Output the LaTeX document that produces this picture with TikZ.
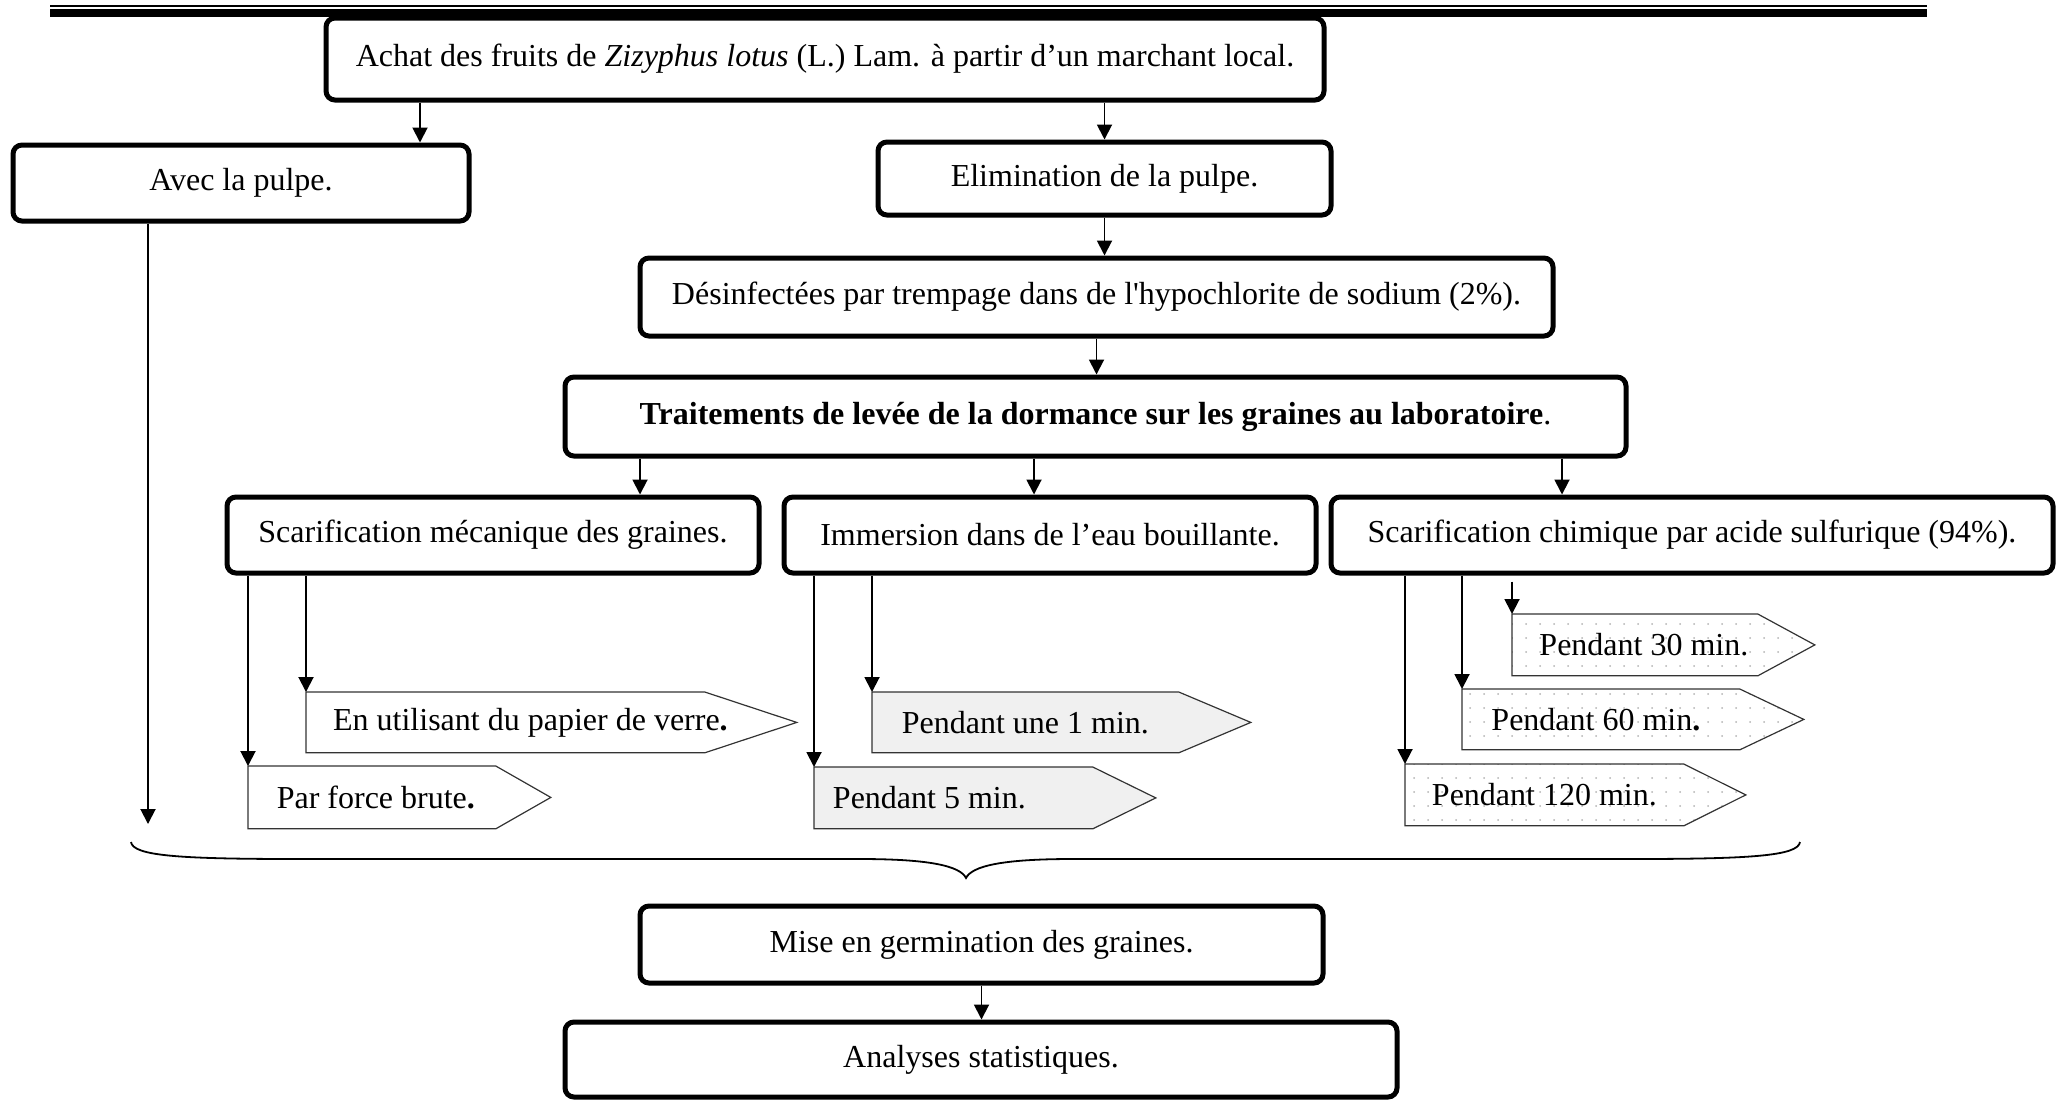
\documentclass[tikz,border=0pt]{standalone}
\usepackage{fontspec}
\setmainfont{Liberation Serif}
\usetikzlibrary{arrows.meta,backgrounds,patterns.meta}
\tikzdeclarepattern{
  name=sparsedots,
  type=uncolored,
  bottom left={(-.7pt,-.7pt)},
  top right={(.7pt,.7pt)},
  tile size={(7pt,7pt)},
  code={\fill (0pt,0pt) circle (.5pt);}
}
\newcommand\pentdraw[3]{\draw[#3] (#1.north west) -- (#1.north east) -- ([xshift=#2]#1.east) -- (#1.south east) -- (#1.south west) -- cycle;}
\newcommand\ptext[3]{\makebox[#1][c]{\hspace*{#2}#3}}
\begin{document}
\begin{tikzpicture}[x=0.5pt,y=-0.5pt,
  font=\fontsize{16}{19}\selectfont,
  box/.style={draw, line width=2.5pt, rounded corners=4.5pt, inner sep=0pt, align=center},
  pent/.style={inner sep=0pt, anchor=north west},
  pline/.style={draw=black!80, line width=0.6pt},
  pwhite/.style={pline, fill=white},
  pgray/.style={pline, fill=black!6},
  pdots/.style={pline, pattern={sparsedots}, pattern color=black!30},
  arr/.style={line width=0.95pt, -{Triangle[length=7.5pt,width=7.5pt]}}
]
\useasboundingbox (0,0) rectangle (2060,1100);
% top rule
\draw[line width=1pt] (50,6) -- (1927,6);
\fill (50,9) rectangle (1927,17);

% boxes
\node[box, minimum width=499pt, minimum height=41pt] (top) at (825,59) {Achat des fruits de \textit{Zizyphus lotus} (L.) Lam. à partir d’un marchant local.};
\node[box, minimum width=228pt, minimum height=38pt] (avec) at (241,183) {Avec la pulpe.};
\node[box, minimum width=226.5pt, minimum height=36.5pt] (elim) at (1104.5,178.5) {Elimination de la pulpe.};
\node[box, minimum width=456.5pt, minimum height=39pt] (desinf) at (1096.5,297) {Désinfectées par trempage dans de l\textquotesingle hypochlorite de sodium (2\%).};
\node[box, minimum width=530.5pt, minimum height=39.5pt] (trait) at (1095.5,416.5) {\textbf{Traitements de levée de la dormance sur les graines au laboratoire}.};
\node[box, minimum width=266pt, minimum height=38pt] (mech) at (493,535) {Scarification mécanique des graines.};
\node[box, minimum width=266pt, minimum height=38pt] (imm) at (1050,535) {Immersion dans de l’eau bouillante.};
\node[box, minimum width=361pt, minimum height=38pt] (chim) at (1692,535) {Scarification chimique par acide sulfurique (94\%).};
\node[box, minimum width=341.5pt, minimum height=38.5pt] (germ) at (981.5,944.5) {Mise en germination des graines.};
\node[box, minimum width=416pt, minimum height=37.5pt] (anal) at (981,1059.5) {Analyses statistiques.};

% pentagon nodes (body rectangles)
\node[pent, minimum height=30pt] (verre) at (306,692) {\ptext{199pt}{25pt}{En utilisant du papier de verre\textbf{.}}};
\node[pent, minimum height=31pt] (brute) at (248,766) {\ptext{123.5pt}{4pt}{Par force brute\textbf{.}}};
\node[pent, minimum height=30pt] (une) at (872,692) {\ptext{153pt}{0pt}{Pendant une 1 min.}};
\node[pent, minimum height=30.5pt] (cinq) at (814,767) {\ptext{139pt}{-24pt}{Pendant 5 min.}};
\node[pent, minimum height=30.5pt] (trente) at (1512,614) {\ptext{122.5pt}{9pt}{Pendant 30 min.}};
\node[pent, minimum height=30pt] (soixante) at (1462,689) {\ptext{138.5pt}{-5pt}{Pendant 60 min\textbf{.}}};
\node[pent, minimum height=30.5pt] (cent) at (1405,764) {\ptext{139pt}{0pt}{Pendant 120 min.}};

\begin{scope}[on background layer]
\pentdraw{verre}{46pt}{pwhite}
\pentdraw{brute}{27.5pt}{pwhite}
\pentdraw{une}{36pt}{pgray}
\pentdraw{cinq}{31.5pt}{pgray}
\pentdraw{trente}{28.5pt}{pdots}
\pentdraw{soixante}{32pt}{pdots}
\pentdraw{cent}{31pt}{pdots}
\end{scope}

% helper coordinates
\coordinate (xa) at (420,0);
\coordinate (x1) at (640,0);
\coordinate (x2) at (1034,0);
\coordinate (x3) at (1562,0);
\coordinate (avecend) at (148,824);

% connectors
\draw[arr] (top.south -| xa) -- (avec.north -| xa);
\draw[arr] (top.south -| elim.north) -- (elim.north);
\draw[arr] (elim.south) -- (elim.south |- desinf.north);
\draw[arr] (desinf.south) -- (desinf.south |- trait.north);
\draw[arr] (trait.south -| x1) -- (mech.north -| x1);
\draw[arr] (trait.south -| x2) -- (imm.north -| x2);
\draw[arr] (trait.south -| x3) -- (chim.north -| x3);
\draw[arr] (avec.south -| avecend) -- (avecend);
\draw[arr] (mech.south -| brute.north west) -- (brute.north west);
\draw[arr] (mech.south -| verre.north west) -- (verre.north west);
\draw[arr] (imm.south -| cinq.north west) -- (cinq.north west);
\draw[arr] (imm.south -| une.north west) -- (une.north west);
\draw[arr] (chim.south -| cent.north west) -- (cent.north west);
\draw[arr] (chim.south -| soixante.north west) -- (soixante.north west);
\draw[arr] ([yshift=-3pt]chim.south -| trente.north west) -- (trente.north west);
\draw[arr] (germ.south) -- (germ.south |- anal.north);

% brace
\draw[line width=0.9pt] (131,842) .. controls (133,856) and (180,859) .. (300,859) -- (860,859) .. controls (930,859) and (960,866) .. (966,878) .. controls (972,866) and (1002,859) .. (1072,859) -- (1630,859) .. controls (1750,859) and (1798,856) .. (1800,842);
\end{tikzpicture}
\end{document}
